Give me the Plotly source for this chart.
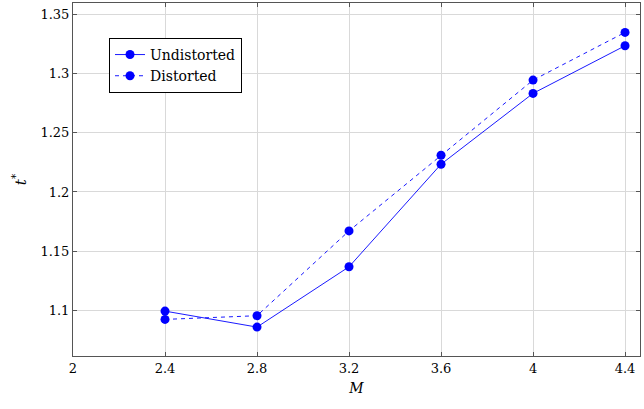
import plotly.graph_objects as go

# Mach number samples and the resulting t* values
mach = [2.4, 2.8, 3.2, 3.6, 4.0, 4.4]
t_undistorted = [1.0994, 1.0859, 1.1368, 1.2234, 1.2832, 1.3234]
t_distorted = [1.0924, 1.0955, 1.1671, 1.2310, 1.2944, 1.3347]

x_ticks = [2, 2.4, 2.8, 3.2, 3.6, 4, 4.4]
x_tick_text = ["2", "2.4", "2.8", "3.2", "3.6", "4", "4.4"]
y_ticks = [1.1, 1.15, 1.2, 1.25, 1.3, 1.35]
y_tick_text = ["1.1", "1.15", "1.2", "1.25", "1.3", "1.35"]

FONT = "DejaVu Serif, Liberation Serif, serif"
BLUE = "#0000ff"

fig = go.Figure()
fig.add_trace(go.Scatter(
    x=mach, y=t_undistorted, name="Undistorted", mode="lines+markers",
    line=dict(color=BLUE, width=0.9),
    marker=dict(color=BLUE, size=9),
))
fig.add_trace(go.Scatter(
    x=mach, y=t_distorted, name="Distorted", mode="lines+markers",
    line=dict(color=BLUE, width=0.9, dash="4px,4px"),
    marker=dict(color=BLUE, size=9),
))

axis_common = dict(
    showgrid=True, gridcolor="#d9d9d9", gridwidth=1,
    showline=True, linecolor="#555555", linewidth=1, mirror="ticks",
    ticks="inside", ticklen=4, tickcolor="#555555",
    zeroline=False,
    tickfont=dict(family=FONT, size=13, color="black"),
)

fig.update_xaxes(
    range=[2, 4.465], tickvals=x_ticks, ticktext=x_tick_text,
    title=dict(text="<i>M</i>", font=dict(family=FONT, size=14, color="black"), standoff=8),
    **axis_common,
)
fig.update_yaxes(
    range=[1.0615, 1.3595], tickvals=y_ticks, ticktext=y_tick_text,
    title=dict(text="<i>t</i><sup>*</sup>", font=dict(family=FONT, size=15, color="black"), standoff=10),
    **axis_common,
)

fig.update_layout(
    width=644, height=409,
    margin=dict(l=73, r=4, t=3, b=53),
    paper_bgcolor="white", plot_bgcolor="white",
    showlegend=True,
    legend=dict(
        x=0.0635, y=0.901, xanchor="left", yanchor="top",
        bgcolor="white", bordercolor="black", borderwidth=1,
        font=dict(family=FONT, size=14, color="black"),
        itemwidth=30, tracegroupgap=0,
    ),
)

fig.write_html("out.html")
